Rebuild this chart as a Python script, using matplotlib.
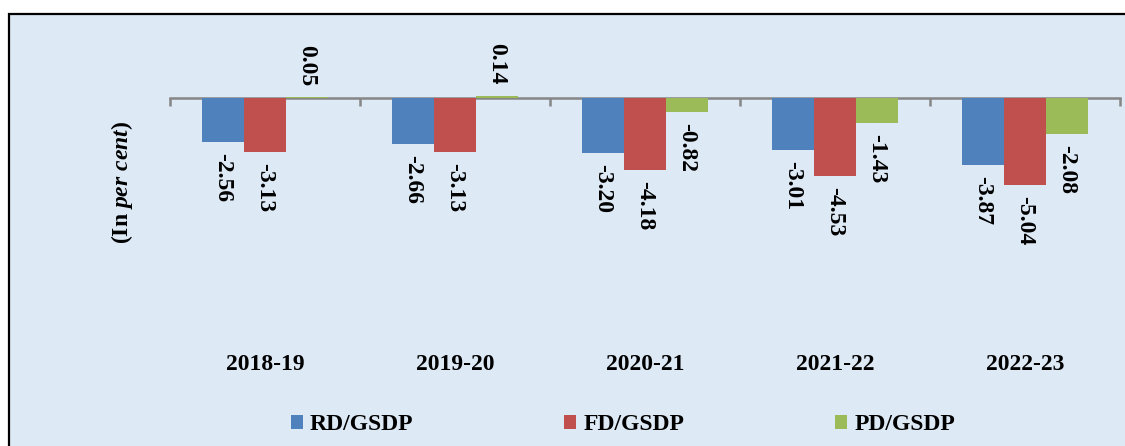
import matplotlib

matplotlib.use("Agg")
import matplotlib.pyplot as plt
import matplotlib.patheffects as pe
from matplotlib.patches import Rectangle
from matplotlib.transforms import blended_transform_factory
import numpy as np

# Data (per cent of GSDP)
years = ["2018-19", "2019-20", "2020-21", "2021-22", "2022-23"]
rd_gsdp = [-2.56, -2.66, -3.20, -3.01, -3.87]
fd_gsdp = [-3.13, -3.13, -4.18, -4.53, -5.04]
pd_gsdp = [0.05, 0.14, -0.82, -1.43, -2.08]
series_names = ["RD/GSDP", "FD/GSDP", "PD/GSDP"]
colors = ["#4F81BD", "#C0504D", "#9BBB59"]

plt.rcParams["font.family"] = ["Liberation Serif", "DejaVu Serif"]
plt.rcParams["font.weight"] = "bold"
plt.rcParams["mathtext.fontset"] = "custom"
plt.rcParams["mathtext.it"] = "Liberation Serif:italic:bold"
plt.rcParams["mathtext.rm"] = "Liberation Serif:bold"
FS = 17

W, H = 1125, 446
fig = plt.figure(figsize=(W / 100, H / 100), dpi=100)

# background panel with black frame
fig.patches.append(Rectangle((9 / W, -0.05), 1.2, 1 - 14 / H + 0.05,
                             transform=fig.transFigure, facecolor="#dde9f5",
                             edgecolor="black", lw=1.6, zorder=-10))

# axes: zero line at y=98px, 17.3 px per unit
top_px, bot_px = 30, 350
ax = fig.add_axes([170 / W, 1 - bot_px / H, (1120 - 170) / W, (bot_px - top_px) / H])
ax.patch.set_visible(False)
ppu = 17.3
ax.set_ylim(-(bot_px - 98) / ppu, (98 - top_px) / ppu)
ax.set_xlim(-0.5, len(years) - 0.5)

x = np.arange(len(years))
width = 0.221
shadow = [pe.SimplePatchShadow(offset=(3, -3), alpha=0.35, shadow_rgbFace="#606060"), pe.Normal()]
for k, (vals, col) in enumerate(zip([rd_gsdp, fd_gsdp, pd_gsdp], colors)):
    pos = x + (k - 1) * width
    bars = ax.bar(pos, vals, width, color=col, label=series_names[k], zorder=3)
    for b in bars:
        b.set_path_effects(shadow)
    for xi, v in zip(pos, vals):
        ax.annotate(f"{v:.2f}", (xi, v), xytext=(0, -8 if v < 0 else 8),
                    textcoords="offset points", rotation=-90, ha="center",
                    va="top" if v < 0 else "bottom", fontsize=FS,
                    fontweight="bold", zorder=4)

for s in ["top", "right", "left"]:
    ax.spines[s].set_visible(False)
ax.spines["bottom"].set_position(("data", 0))
ax.spines["bottom"].set_color("#868686")
ax.spines["bottom"].set_linewidth(1.8)
ax.spines["bottom"].set_zorder(2)
ax.set_yticks([])
ax.set_xticks(x)
ax.set_xticklabels([])
ax.tick_params(axis="x", which="major", length=0)
ax.set_xticks(np.arange(len(years) + 1) - 0.5, minor=True)
ax.tick_params(axis="x", which="minor", length=6, width=1.8, color="#868686", direction="out")

trans = blended_transform_factory(ax.transData, ax.transAxes)
for xi, lab in zip(x, years):
    ax.text(xi, -(364 - bot_px) / (bot_px - top_px), lab, transform=trans,
            ha="center", va="center", fontsize=FS, fontweight="bold")

fig.text(122 / W, 1 - 182 / H, r"(In $\mathit{per\ cent}$)", rotation=90,
         ha="center", va="center", fontsize=FS, fontweight="bold")

handles, labels = ax.get_legend_handles_labels()
for h in handles:
    for b in h:
        b.set_path_effects([])
fig.legend(handles, labels, loc="center", bbox_to_anchor=(623 / W, 1 - 425 / H),
           ncol=3, frameon=False, fontsize=FS, handlelength=0.5, handleheight=0.5,
           handletextpad=0.3, columnspacing=6.4, prop={"weight": "bold", "size": FS})

fig.savefig("out.png", dpi=100)
